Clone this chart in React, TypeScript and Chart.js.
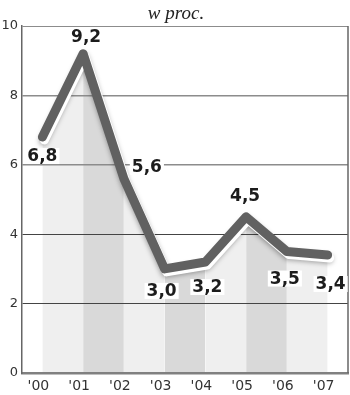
import React, { useEffect, useRef } from "react";
import { Chart, registerables } from "chart.js";

Chart.register(...registerables);

const years = ["'00", "'01", "'02", "'03", "'04", "'05", "'06", "'07"];
const values = [6.8, 9.2, 5.6, 3.0, 3.2, 4.5, 3.5, 3.4];
const yMin = 0;
const yMax = 10;
const yStep = 2;
const titleText = "w proc.";

// label placement relative to each point (style only)
const labelOffsets: [number, number][] = [
  [0, 19], [3, -17], [23, -12], [-3, 22], [2, 25], [-1, -21], [-2, 27], [3, 29],
];

const fmt = (v: number) => v.toFixed(1).replace(".", ",");

export default function App() {
  const ref = useRef<HTMLCanvasElement>(null);

  useEffect(() => {
    document.body.style.margin = "0";
    const canvas = ref.current!;
    const decor = {
      id: "decor",
      beforeDatasetDraw(chart: any, args: any) {
        if (args.index === 1) {
          const ctx = chart.ctx;
          ctx.save();
          ctx.translate(2, 3);
          ctx.shadowColor = "rgba(0,0,0,0.35)";
          ctx.shadowBlur = 5;
          ctx.shadowOffsetX = -1;
          ctx.shadowOffsetY = 1;
        }
      },
      afterDatasetDraw(chart: any, args: any) {
        if (args.index === 1) chart.ctx.restore();
      },
      beforeDatasetsDraw(chart: any) {
        const { ctx, chartArea } = chart;
        ctx.save();
        ctx.strokeStyle = "#666";
        ctx.lineWidth = 1.5;
        ctx.beginPath();
        ctx.moveTo(chartArea.right, chartArea.top);
        ctx.lineTo(chartArea.right, chartArea.bottom);
        ctx.stroke();
        ctx.restore();
      },
      afterDraw(chart: any) {
        const { ctx } = chart;
        ctx.save();
        // title
        ctx.font = "italic 19px 'Liberation Serif', 'DejaVu Serif', serif";
        ctx.fillStyle = "#222";
        ctx.textAlign = "center";
        ctx.textBaseline = "alphabetic";
        ctx.fillText(titleText, 176, 19);
        // value labels
        const meta = chart.getDatasetMeta(2);
        ctx.font = "bold 17px 'DejaVu Sans', sans-serif";
        ctx.textBaseline = "middle";
        meta.data.forEach((pt: any, i: number) => {
          const [dx, dy] = labelOffsets[i];
          const x = pt.x + dx;
          const y = pt.y + dy;
          const txt = fmt(values[i]);
          const w = ctx.measureText(txt).width;
          ctx.fillStyle = "#fff";
          ctx.fillRect(x - w / 2 - 2, y - 8, w + 4, 16);
          ctx.fillStyle = "#1c1c1c";
          ctx.fillText(txt, x, y + 1);
        });
        ctx.restore();
      },
    };

    const chart = new Chart(canvas, {
      type: "line",
      data: {
        labels: years,
        datasets: [
          {
            data: values,
            borderWidth: 0,
            borderColor: "rgba(0,0,0,0)",
            pointRadius: 0,
            fill: "origin",
            order: 3,
            segment: {
              backgroundColor: (c: any) => (c.p0DataIndex % 2 === 0 ? "#efefef" : "#d9d9d9"),
            },
          } as any,
          {
            data: values,
            borderWidth: 9,
            borderColor: "#ffffff",
            borderCapStyle: "round",
            borderJoinStyle: "round",
            pointRadius: 0,
            fill: false,
            clip: false,
            order: 2,
          },
          {
            data: values,
            borderWidth: 9,
            borderColor: "#616161",
            borderCapStyle: "round",
            borderJoinStyle: "round",
            pointRadius: 0,
            fill: false,
            clip: false,
            order: 1,
          },
        ],
      },
      options: {
        animation: false,
        responsive: false,
        devicePixelRatio: 1,
        layout: { padding: { top: 26, right: 2, left: 0, bottom: 0 } },
        plugins: {
          legend: { display: false },
          tooltip: { enabled: false },
          title: { display: false },
          filler: { drawTime: "beforeDraw" } as any,
        },
        scales: {
          x: {
            offset: true,
            grid: { display: false, drawTicks: false },
            border: { display: true, color: "#808080", width: 2.5 },
            ticks: {
              padding: 5,
              labelOffset: -4,
              color: "#333",
              font: { family: "'DejaVu Sans', sans-serif", size: 14 },
              maxRotation: 0,
            },
            afterFit: (s: any) => { s.height = 22; },
          },
          y: {
            min: yMin,
            max: yMax,
            grid: {
              drawTicks: false,
              color: (c: any) => (c.tick && c.tick.value >= 6 ? "#8c8c8c" : "#444"),
              lineWidth: (c: any) => (c.tick && c.tick.value >= 6 && c.tick.value < 10 ? 1.6 : 1),
            },
            border: { display: true, color: "#666", width: 1.5 },
            ticks: {
              stepSize: yStep,
              padding: 4,
              color: "#333",
              font: { family: "'DejaVu Sans', sans-serif", size: 13 },
            },
            afterFit: (s: any) => { s.width = 22; },
          },
        },
      },
      plugins: [decor],
    });
    return () => chart.destroy();
  }, []);

  return (
    <div style={{ width: 350, height: 395 }}>
      <canvas ref={ref} width={350} height={395} />
    </div>
  );
}
